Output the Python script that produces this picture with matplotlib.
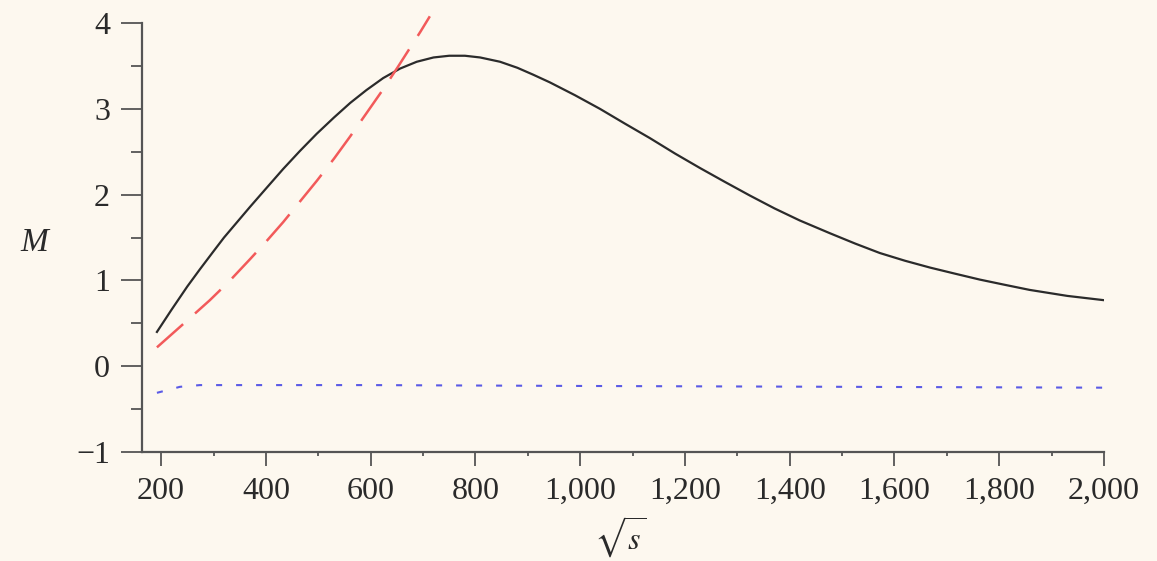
"""M vs sqrt(s) curve, Maple-style"""

import matplotlib
matplotlib.use("Agg")
import matplotlib.pyplot as plt
from matplotlib.ticker import FuncFormatter, MultipleLocator

# Значения
x_black = [192, 220, 250, 274, 300, 320, 345, 370, 400, 433, 465, 497, 530,
           561, 592, 624, 656, 688, 720, 750, 780, 809, 847, 880, 910, 942,
           990, 1038, 1085, 1133, 1181, 1229, 1276, 1324, 1371, 1419, 1477,
           1525, 1572, 1620, 1668, 1715, 1763, 1810, 1858, 1930, 2000]
m_black = [0.40, 0.66, 0.93, 1.13, 1.34, 1.50, 1.68, 1.86, 2.07, 2.30, 2.51,
           2.71, 2.90, 3.07, 3.22, 3.36, 3.47, 3.55, 3.60, 3.62, 3.62, 3.60,
           3.55, 3.48, 3.40, 3.31, 3.16, 3.00, 2.83, 2.66, 2.48, 2.31, 2.15,
           1.99, 1.84, 1.70, 1.55, 1.43, 1.32, 1.23, 1.15, 1.08, 1.01, 0.95,
           0.89, 0.82, 0.77]

x_red = [192, 240, 293, 330, 370, 400, 433, 465, 497, 530, 561, 592, 624,
         652, 675, 695, 713]
m_red = [0.22, 0.48, 0.77, 0.99, 1.25, 1.45, 1.68, 1.92, 2.16, 2.42, 2.68,
         2.95, 3.23, 3.49, 3.71, 3.90, 4.08]

x_blue = [192, 236, 274, 600, 1000, 1500, 2000]
m_blue = [-0.31, -0.24, -0.22, -0.22, -0.23, -0.24, -0.25]

BG = "#fdf8ef"


def main() -> None:
    """main function"""
    plt.rcParams["font.family"] = ["Liberation Serif", "DejaVu Serif"]
    plt.rcParams["mathtext.fontset"] = "stix"

    fig = plt.figure(figsize=(11.57, 5.61), dpi=100, facecolor=BG)
    ax = fig.add_axes([142 / 1157, 109 / 561, (1104 - 142) / 1157, 452 / 561])
    ax.set_facecolor(BG)

    ax.plot(x_black, m_black, color="#2b2b2b", lw=1.6)
    ax.plot(x_red, m_red, color="#f25a5a", lw=1.8, linestyle=(0, (14, 6.4)))
    ax.plot(x_blue, m_blue, color="#5a5ae6", lw=1.5, linestyle=(0, (2.9, 6.7)))

    ax.set_xlim(163.5, 2000)
    ax.set_ylim(-1, 4.27)

    for side in ("top", "right"):
        ax.spines[side].set_visible(False)
    for side in ("left", "bottom"):
        ax.spines[side].set_color("#555555")
        ax.spines[side].set_linewidth(1.6)
    ax.spines["left"].set_bounds(-1, 4)

    ax.xaxis.set_major_locator(MultipleLocator(200))
    ax.xaxis.set_minor_locator(MultipleLocator(100))
    ax.yaxis.set_major_locator(MultipleLocator(1))
    ax.yaxis.set_minor_locator(MultipleLocator(0.5))
    ax.xaxis.set_major_formatter(FuncFormatter(lambda v, p: f"{v:,.0f}"))
    ax.yaxis.set_major_formatter(
        FuncFormatter(lambda v, p: f"{v:.0f}".replace("-", "\u2212")))

    ax.tick_params(axis="x", which="major", length=10, width=1.3,
                   color="#555555", labelsize=23, labelcolor="#2a2a2a", pad=8)
    ax.tick_params(axis="x", which="minor", length=3, width=1.3,
                   color="#555555")
    ax.tick_params(axis="y", which="major", length=15, width=1.3,
                   color="#555555", labelsize=23, labelcolor="#2a2a2a", pad=8)
    ax.tick_params(axis="y", which="minor", length=8, width=1.3,
                   color="#555555")

    fig.text(34 / 1157, 1 - 243 / 561, "M", fontsize=24, style="italic",
             color="#2a2a2a", ha="center", va="center")
    fig.text(620 / 1157, 1 - 537 / 561, r"$\sqrt{s}$", fontsize=23,
             color="#2a2a2a", ha="center", va="center")

    fig.savefig("out.png", dpi=100, facecolor=BG)


if __name__ == "__main__":
    main()
